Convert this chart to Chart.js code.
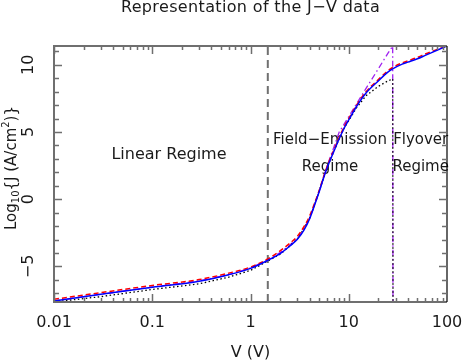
<!DOCTYPE html>
<html>
<head>
<meta charset="utf-8">
<script src="https://cdn.jsdelivr.net/npm/chart.js@4/dist/chart.umd.min.js"></script>
<style>
  html, body { margin: 0; padding: 0; background: #ffffff; }
  #wrap { width: 463px; height: 363px; }
</style>
</head>
<body>
<div id="wrap"><canvas id="c" width="463" height="363"></canvas></div>
<script>
// ---------------- data ----------------
const voltages = [0.01, 0.03, 0.1, 0.3, 0.6, 1, 1.5, 2, 2.5, 3, 3.5, 4, 4.5, 5, 5.5, 6, 7, 8, 9, 10, 12, 15, 20, 25, 28, 35, 40, 50, 60, 80, 100];
const logJMeasured = [-7.45, -6.95, -6.42, -5.98, -5.5, -5.05, -4.45, -3.85, -3.3, -2.75, -2.05, -1.25, -0.28, 0.65, 1.6, 2.4, 3.6, 4.6, 5.4, 6.0, 7.0, 8.0, 8.9, 9.55, 9.8, 10.15, 10.3, 10.55, 10.8, 11.15, 11.4];
const logJTotal    = [-7.57, -7.07, -6.55, -6.1, -5.62, -5.15, -4.55, -4.05, -3.5, -2.98, -2.3, -1.45, -0.42, 0.55, 1.5, 2.3, 3.5, 4.5, 5.3, 5.9, 6.9, 7.9, 8.8, 9.45, 9.7, 10.05, 10.2, 10.45, 10.7, 11.1, 11.4];
// series that stop at the flyover boundary (first 25 voltages, up to 28 V)
const logJFieldEmission = [-7.65, -7.25, -6.72, -6.3, -5.8, -5.3, -4.6, -4.1, -3.5, -2.95, -2.2, -1.4, -0.4, 0.6, 1.5, 2.3, 3.5, 4.5, 5.3, 5.85, 6.8, 7.7, 8.4, 8.8, 8.95];
const logJFowler        = [-7.57, -7.07, -6.55, -6.08, -5.62, -5.12, -4.52, -3.98, -3.42, -2.9, -2.2, -1.4, -0.4, 0.6, 1.55, 2.45, 3.8, 5.0, 5.6, 6.15, 7.1, 8.25, 9.7, 10.85, 11.4];
// cut-off part after the flyover voltage
const cutoffVoltages = [28.2, 100];
const logJFieldEmissionCut = [-7.65, null];
const logJFowlerCut = [-7.65, -7.65];
// regime boundary (linear -> field emission)
const boundaryVoltage = 1.5;

const xRange = [0.01, 100];
const yRange = [-7.65, 11.4];
const xTickValues = [0.01, 0.1, 1, 10, 100];
const xTickLabels = ['0.01', '0.1', '1', '10', '100'];
const yTickValues = [-5, 0, 5, 10];
const yTickLabels = ['\u22125', '0', '5', '10'];

// ---------------- build datasets ----------------
function pts(xs, ys) {
  const out = [];
  for (let i = 0; i < ys.length; i++) out.push({ x: xs[i], y: ys[i] });
  return out;
}
const feData = pts(voltages, logJFieldEmission).concat(pts(cutoffVoltages, logJFieldEmissionCut));
const fnData = pts(voltages, logJFowler).concat(pts(cutoffVoltages, logJFowlerCut));

const FONT = '"DejaVu Sans", "Liberation Sans", sans-serif';
const TXT = '#1a1a1a';
const AXC = '#6f6f6f';

const decor = {
  id: 'decor',
  beforeDatasetsDraw(chart) {
    const { ctx, chartArea: a, scales: { x, y } } = chart;
    ctx.save();
    ctx.fillStyle = TXT;
    ctx.textAlign = 'center';
    ctx.textBaseline = 'middle';
    const notes = chart.options.plugins.decor.notes;
    notes.forEach(n => {
      ctx.font = n.size + 'px ' + FONT;
      const px = x.getPixelForValue(n.v);
      const py = y.getPixelForValue(n.j);
      n.lines.forEach((t, i) => ctx.fillText(t, px, py + i * n.step));
    });
    ctx.restore();
  },
  afterDraw(chart) {
    const { ctx, chartArea: a, scales: { x, y } } = chart;
    ctx.save();
    // frame
    ctx.lineWidth = 2;
    ctx.strokeStyle = AXC;
    ctx.beginPath();
    ctx.moveTo(a.right, a.top); ctx.lineTo(a.left, a.top); ctx.lineTo(a.left, a.bottom); ctx.lineTo(a.right, a.bottom);
    ctx.stroke();
    ctx.lineWidth = 1.2;
    ctx.strokeStyle = '#000';
    ctx.beginPath(); ctx.moveTo(a.right, a.top); ctx.lineTo(a.right, a.bottom); ctx.stroke();

    // x ticks (log, inward top & bottom)
    ctx.strokeStyle = AXC;
    ctx.lineWidth = 1.5;
    ctx.beginPath();
    for (let d = -2; d < 2; d++) {
      for (let m = 1; m <= 9; m++) {
        const v = m * Math.pow(10, d);
        const px = Math.round(x.getPixelForValue(v)) + 0.5;
        const len = m === 1 ? 8 : 4;
        ctx.moveTo(px, a.bottom); ctx.lineTo(px, a.bottom - len);
        ctx.moveTo(px, a.top); ctx.lineTo(px, a.top + len);
      }
    }
    ctx.stroke();
    // y ticks (inward left & right)
    ctx.beginPath();
    for (let j = -7; j <= 11; j++) {
      const py = Math.round(y.getPixelForValue(j)) + 0.5;
      const len = (j % 5 === 0) ? 8 : 5;
      ctx.moveTo(a.left, py); ctx.lineTo(a.left + len, py);
      ctx.moveTo(a.right, py); ctx.lineTo(a.right - len, py);
    }
    ctx.stroke();

    // tick labels
    ctx.fillStyle = TXT;
    ctx.font = '16px ' + FONT;
    ctx.textAlign = 'center';
    ctx.textBaseline = 'middle';
    xTickValues.forEach((v, i) => ctx.fillText(xTickLabels[i], x.getPixelForValue(v), a.bottom + 21));
    yTickValues.forEach((v, i) => {
      ctx.save();
      ctx.translate(a.left - 25, y.getPixelForValue(v));
      ctx.rotate(-Math.PI / 2);
      ctx.fillText(yTickLabels[i], 0, 0);
      ctx.restore();
    });

    // axis titles
    ctx.fillText('V (V)', (a.left + a.right) / 2, a.bottom + 51);
    // y title with sub/superscript
    ctx.save();
    ctx.translate(12, 168);
    ctx.rotate(-Math.PI / 2);
    const big = '15px ' + FONT, small = '10px ' + FONT;
    const parts = [
      { t: 'Log', f: big, dy: 0 },
      { t: '10', f: small, dy: 4 },
      { t: '{J (A/cm', f: big, dy: 0 },
      { t: '2', f: small, dy: -6 },
      { t: ')}', f: big, dy: 0 }
    ];
    let total = 0;
    parts.forEach(p => { ctx.font = p.f; p.w = ctx.measureText(p.t).width; total += p.w; });
    let cx = -total / 2;
    ctx.textAlign = 'left';
    parts.forEach(p => { ctx.font = p.f; ctx.fillText(p.t, cx, p.dy); cx += p.w; });
    ctx.restore();

    // chart title
    ctx.font = '16px ' + FONT;
    ctx.textAlign = 'center';
    try { ctx.letterSpacing = '0.35px'; } catch (e) {}
    ctx.fillText('Representation of the J\u2212V data', (a.left + a.right) / 2, 8);
    try { ctx.letterSpacing = '0px'; } catch (e) {}
    ctx.restore();
  }
};

new Chart(document.getElementById('c'), {
  type: 'line',
  data: {
    datasets: [
      { label: 'total', data: pts(voltages, logJTotal), borderColor: '#0000ff', borderWidth: 1.5, order: 0 },
      { label: 'measured', data: pts(voltages, logJMeasured), borderColor: '#ff0000', borderWidth: 1.5, borderDash: [5, 3], order: 1 },
      { label: 'field emission', data: feData, borderColor: '#000000', borderWidth: 1.3, borderDash: [1.5, 2.5], order: 2, cubicInterpolationMode: 'default', tension: 0 },
      { label: 'fowler', data: fnData, borderColor: '#a020f0', borderWidth: 1.3, borderDash: [6, 3, 1.5, 3], order: 3, cubicInterpolationMode: 'default', tension: 0 },
      { label: 'boundary', data: [{ x: boundaryVoltage, y: yRange[0] }, { x: boundaryVoltage, y: yRange[1] }], borderColor: '#707070', borderWidth: 2, borderDash: [8, 5], order: 4, tension: 0, cubicInterpolationMode: 'default' }
    ]
  },
  options: {
    responsive: false,
    devicePixelRatio: 1,
    animation: false,
    spanGaps: false,
    layout: { padding: { left: 54, top: 46, right: 16, bottom: 61 } },
    elements: { point: { radius: 0 }, line: { cubicInterpolationMode: 'monotone', fill: false } },
    scales: {
      x: { type: 'logarithmic', min: xRange[0], max: xRange[1], display: false },
      y: { type: 'linear', min: yRange[0], max: yRange[1], display: false }
    },
    plugins: {
      legend: { display: false },
      title: { display: false },
      tooltip: { enabled: false },
      decor: {
        notes: [
          { v: 0.148, j: 3.32, size: 16, lines: ['Linear Regime'], step: 0 },
          { v: 6.44, j: 4.39, size: 15, lines: ['Field\u2212Emission', 'Regime'], step: 27 },
          { v: 54, j: 4.39, size: 15, lines: ['Flyover', 'Regime'], step: 27 }
        ]
      }
    }
  },
  plugins: [decor]
});
</script>
</body>
</html>
